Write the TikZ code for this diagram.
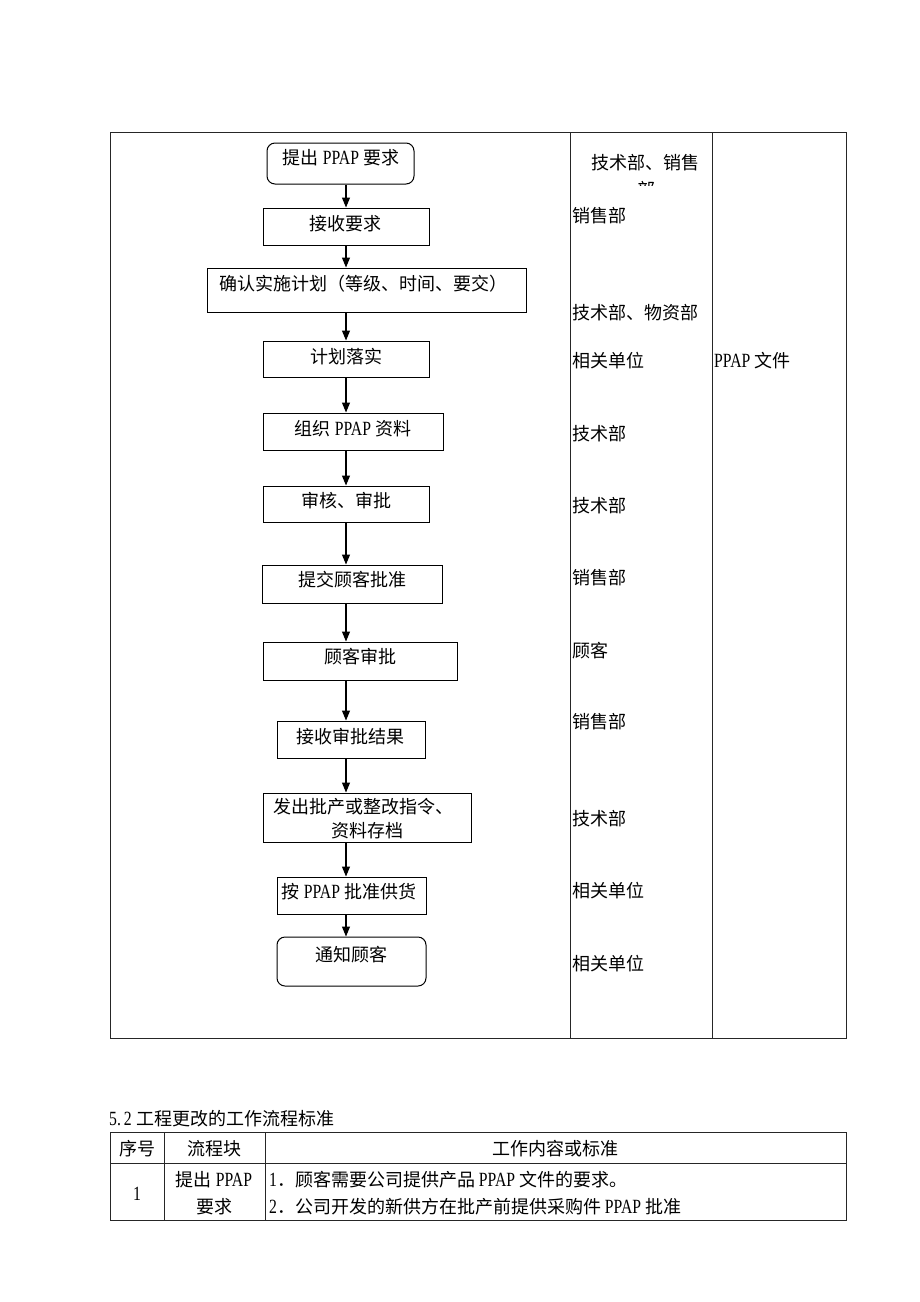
\documentclass[tikz,border=0pt]{standalone}
\usepackage{fontspec}
\setmainfont{Liberation Serif}[FakeStretch=0.78,Scale=1.12]
\newfontfamily\cjk{Noto Sans CJK SC}
\newcommand\zh[1]{{\cjk #1}}
\usetikzlibrary{arrows.meta}
\tikzset{
  stepbox/.style={draw=black,line width=1pt,inner sep=0pt,fill=white},
  roundbox/.style={stepbox,rounded corners=8pt},
  txt/.style={inner sep=0pt,text height=15pt,text depth=2pt,font=\fontsize{18}{22}\selectfont},
  lbl/.style={txt,anchor=west},
  arr/.style={line width=1.1pt,-{Triangle[width=8pt,length=10pt]}},
  frame/.style={draw=black!85,line width=1pt}
}
\begin{document}
\begin{tikzpicture}[x=1pt,y=-1pt]
\useasboundingbox (0,0) rectangle (920,1302);
\fill[white] (0,0) rectangle (920,1302);
% outer table
\draw[frame] (110,132) rectangle (846,1038);
\draw[frame] (570,132) -- (570,1038);
\draw[frame] (712,132) -- (712,1038);
% boxes
\node[roundbox,minimum width=147pt,minimum height=41pt] (b1) at (340.5,163.5) {};
\node[stepbox,minimum width=166pt,minimum height=37pt] (b2) at (346,226.5) {};
\node[stepbox,minimum width=319pt,minimum height=44pt] (b3) at (366.5,290) {};
\node[stepbox,minimum width=166pt,minimum height=36pt] (b4) at (346,359) {};
\node[stepbox,minimum width=180pt,minimum height=37pt] (b5) at (353,431.5) {};
\node[stepbox,minimum width=166pt,minimum height=36pt] (b6) at (346,504) {};
\node[stepbox,minimum width=180pt,minimum height=38pt] (b7) at (352,584) {};
\node[stepbox,minimum width=194pt,minimum height=38pt] (b8) at (360,661) {};
\node[stepbox,minimum width=148pt,minimum height=37pt] (b9) at (351,739.5) {};
\node[stepbox,minimum width=208pt,minimum height=49pt] (b10) at (367,817.5) {};
\node[stepbox,minimum width=149pt,minimum height=37pt] (b11) at (351.5,895.5) {};
\node[roundbox,minimum width=149pt,minimum height=49pt] (b12) at (351.5,961.5) {};
% box texts
\node[txt] (t1) at (341,158) {\zh{提出} PPAP \zh{要求}};
\node[txt] (t2) at (345,224) {\zh{接收要求}};
\node[txt] (t3) at (363,284) {\zh{确认实施计划（等级、时间、要交）}};
\node[txt] (t4) at (346,357) {\zh{计划落实}};
\node[txt] (t5) at (353,429) {\zh{组织} PPAP \zh{资料}};
\node[txt] (t6) at (346,501) {\zh{审核、审批}};
\node[txt] (t7) at (352,580) {\zh{提交顾客批准}};
\node[txt] (t8) at (360,657) {\zh{顾客审批}};
\node[txt] (t9) at (350,737) {\zh{接收审批结果}};
\node[txt] (t10a) at (363,807) {\zh{发出批产或整改指令、}};
\node[txt] (t10b) at (367,831) {\zh{资料存档}};
\node[txt] (t11) at (349,892) {\zh{按} PPAP \zh{批准供货}};
\node[txt] (t12) at (351,955) {\zh{通知顾客}};
% arrows
\coordinate (ax) at (346,0);
\foreach \a/\b in {b1/b2,b2/b3,b3/b4,b4/b5,b5/b6,b6/b7,b7/b8,b8/b9,b9/b10,b10/b11,b11/b12}
  \draw[arr] (\a.south -| ax) -- (\b.north -| ax);
% responsible column
\node[lbl] (r1) at (591,163) {\zh{技术部、销售}};
\begin{scope}
\clip (571,178) rectangle (711,185);
\node[txt] (r1b) at (646,189.5) {\zh{部}};
\end{scope}
\node[lbl] (r2) at (572,216) {\zh{销售部}};
\node[lbl] (r3) at (572,313) {\zh{技术部、物资部}};
\node[lbl] (r4) at (572,361) {\zh{相关单位}};
\node[lbl] (r5) at (572,434) {\zh{技术部}};
\node[lbl] (r6) at (572,506) {\zh{技术部}};
\node[lbl] (r7) at (572,578) {\zh{销售部}};
\node[lbl] (r8) at (572,651) {\zh{顾客}};
\node[lbl] (r9) at (572,722) {\zh{销售部}};
\node[lbl] (r10) at (572,819) {\zh{技术部}};
\node[lbl] (r11) at (572,891) {\zh{相关单位}};
\node[lbl] (r12) at (572,964) {\zh{相关单位}};
\node[lbl] (doc) at (714,361) {PPAP \zh{文件}};
% section 5.2
\node[lbl] (title) at (109,1119) {5.\hspace{3pt}2\hspace{5pt}\zh{工程更改的工作流程标准}};
\draw[frame] (110,1132) rectangle (846,1220);
\draw[frame] (110,1163) -- (846,1163);
\draw[frame] (164,1132) -- (164,1220);
\draw[frame] (265,1132) -- (265,1220);
\node[txt] (h1) at (137,1149) {\zh{序号}};
\node[txt] (h2) at (214,1149) {\zh{流程块}};
\node[txt] (h3) at (555,1149) {\zh{工作内容或标准}};
\node[txt] (c1) at (137,1194) {1};
\node[txt] (c2a) at (214,1180) {\zh{提出} PPAP};
\node[txt] (c2b) at (214,1207) {\zh{要求}};
\node[lbl] (c3a) at (269,1180) {1\zh{．顾客需要公司提供产品} PPAP \zh{文件的要求。}};
\node[lbl] (c3b) at (269,1207) {2\zh{．公司开发的新供方在批产前提供采购件} PPAP \zh{批准}};
\end{tikzpicture}
\end{document}
